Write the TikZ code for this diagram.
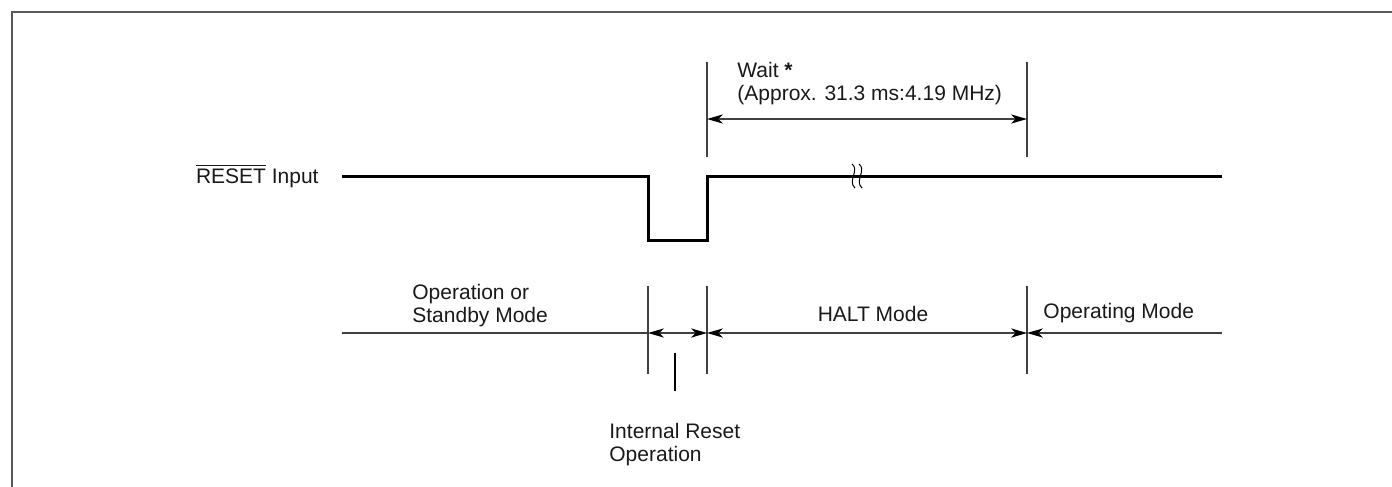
\documentclass[tikz,border=0pt]{standalone}
\usepackage{fontspec}
\setmainfont{Liberation Sans}
\usetikzlibrary{arrows.meta}
\tikzset{dimtip/.tip={Stealth[length=8pt,width=4.6pt,inset=2.4pt,color=black]}}

\begin{document}
\begin{tikzpicture}[x=0.5pt,y=-0.5pt,
  lbl/.style={font=\fontsize{10.5}{11.5}\selectfont,inner sep=0pt,align=left,text=black!90},
  dim/.style={draw=black!75,line width=0.6pt}]
\useasboundingbox (0,0) rectangle (1392,487);
%frame (only top and left edge show)
\draw[black!65,line width=1pt] (11.5,487) -- (11.5,11.5) -- (1392,11.5);

%RESET signal
\coordinate (sig0) at (342,176);
\coordinate (fall) at (648,176);
\coordinate (low0) at (648,240);
\coordinate (low1) at (707,240);
\coordinate (rise) at (707,176);
\coordinate (sig1) at (1222,176);
\draw[line width=1.5pt] (sig0) -- (fall) -- (low0) -- (low1) -- (rise) -- (sig1);
\node [lbl,anchor=base east] (rst) at (319,183) {$\overline{\hbox{RESET}}$ Input};
%break mark
\draw[line width=0.5pt] (852,164) .. controls (860,170) and (847,181) .. (855,188);
\draw[line width=0.5pt] (859,164) .. controls (867,170) and (854,181) .. (862,188);

%wait time
\coordinate (wt0) at (707,62);
\coordinate (wb0) at (707,157);
\coordinate (wt1) at (1027,62);
\coordinate (wb1) at (1027,157);
\coordinate (wa0) at (707,119);
\coordinate (wa1) at (1027,119);
\draw[dim] (wt0) -- (wb0);
\draw[dim] (wt1) -- (wb1);
\draw[dim,dimtip-dimtip] (wa0) -- (wa1);
\node [lbl,anchor=north west] (wait) at (737,62) {Wait \textbf{*}\\(Approx. 31.3 ms:4.19 MHz)};

%mode line
\coordinate (m0) at (342,333);
\coordinate (m1) at (648,333);
\coordinate (m2) at (707,333);
\coordinate (m3) at (1027,333);
\coordinate (m4) at (1222,333);
\coordinate (t1a) at (648,286);
\coordinate (t1b) at (648,374);
\coordinate (t2a) at (707,286);
\coordinate (t2b) at (707,374);
\coordinate (t3a) at (1027,286);
\coordinate (t3b) at (1027,374);
\coordinate (ra) at (675,353);
\coordinate (rb) at (675,391);
\draw[dim] (t1a) -- (t1b);
\draw[dim] (t2a) -- (t2b);
\draw[dim] (t3a) -- (t3b);
\draw[dim,draw=black] (ra) -- (rb);
\draw[dim] (m0) -- (m1);
\draw[dim,dimtip-dimtip] (m1) -- (m2);
\draw[dim,dimtip-dimtip] (m2) -- (m3);
\draw[dim,dimtip-] (m3) -- (m4);

\node [lbl,anchor=north west] (stby) at (412,284) {Operation or\\Standby Mode};
\node [lbl,anchor=base] (halt) at (873,321) {HALT Mode};
\node [lbl,anchor=base west] (oper) at (1043,318) {Operating Mode};
\node [lbl,anchor=north west] (irst) at (609,423) {Internal Reset\\Operation};

\end{tikzpicture}
\end{document}
